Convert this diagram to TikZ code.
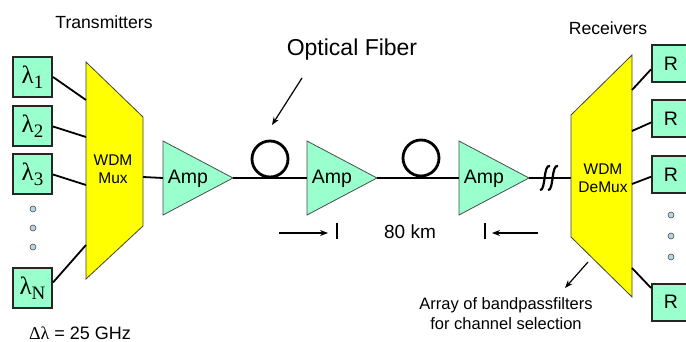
\documentclass[tikz,border=0pt]{standalone}
\usepackage{fontspec}
\setmainfont{Liberation Sans}
\newfontfamily\lamfont{Liberation Serif}
\usetikzlibrary{arrows.meta}

\definecolor{ampgreen}{HTML}{99FFCC}
\definecolor{muxyellow}{HTML}{FFFF00}
\definecolor{dotblue}{HTML}{B4D4E4}

\newcommand{\lam}[1]{{\lamfont\fontsize{25pt}{25pt}\selectfont λ\raisebox{-5pt}{\fontsize{19pt}{19pt}\selectfont #1}}}
% amplifier: name, left x
\newcommand{\ampl}[2]{%
  \coordinate (#1in) at (#2,178);
  \coordinate (#1out) at (#2+70,178);
  \draw[amptri] (#2,141) -- (#1out) -- (#2,215) -- cycle;
  \node[amptext] (#1) at (#2+25,179) {Amp};}

\tikzset{
  chbox/.style={draw=black!85,line width=2pt,fill=ampgreen,inner sep=0pt},
  txbox/.style={chbox,minimum width=39pt,minimum height=40pt},
  rxbox/.style={chbox,minimum width=38pt,minimum height=37pt,font=\fontsize{19.5pt}{19.5pt}\selectfont},
  amptri/.style={draw=black!70,line width=.8pt,fill=ampgreen},
  amptext/.style={font=\fontsize{19.5pt}{19.5pt}\selectfont},
  muxshape/.style={draw=black!75,line width=.8pt,fill=muxyellow},
  muxtext/.style={font=\fontsize{15.5pt}{17.5pt}\selectfont,align=center},
  link/.style={line width=1.8pt},
  fiber/.style={line width=2.8pt},
  lblarrow/.style={line width=1.2pt,-{Stealth[length=8pt,width=6pt]}},
  dimarrow/.style={line width=1.2pt,-{Stealth[length=8pt,width=6pt]}},
  dotmark/.style={draw=black!70,line width=.6pt,fill=dotblue},
}

\begin{document}
\begin{tikzpicture}[x=1pt,y=-1pt]
\useasboundingbox (0,0) rectangle (686,342);
\clip (0,0) rectangle (686,342);

% transmitters
\node[font=\fontsize{17.6pt}{17.6pt}\selectfont] (txlbl) at (104,22) {Transmitters};
\node[txbox] (t1) at (32.5,77) {\lam{1}};
\node[txbox] (t2) at (32.5,126.5) {\lam{2}};
\node[txbox] (t3) at (32.5,174.5) {\lam{3}};
\node[txbox] (tN) at (32.5,288) {\lam{N}};
\foreach \y in {209,228,247}
  \filldraw[dotmark] (33,\y) circle[radius=3pt];
\node[font=\fontsize{18pt}{18pt}\selectfont] (dlam) at (80,333) {{\lamfont Δλ} = 25 GHz};

% multiplexer
\coordinate (mx1) at (86,100);
\coordinate (mx2) at (86,137);
\coordinate (mx3) at (86,185);
\coordinate (mxN) at (86,245);
\coordinate (mxout) at (143,177);
\draw[muxshape] (86,62) -- (143,117) -- (143,226) -- (86,279) -- cycle;
\node[muxtext] (mux) at (113,169) {WDM\\Mux};
\draw[link] (t1.east) -- (mx1);
\draw[link] (t2.east) -- (mx2);
\draw[link] (t3.east) -- (mx3);
\draw[link] (tN.15) -- (mxN);

% amplifiers and fiber
\ampl{a1}{163}
\ampl{a2}{307}
\ampl{a3}{459}
\coordinate (loop1) at (270,159);
\coordinate (loop2) at (421,158);
\coordinate (dmxin) at (571,178);
\draw[link] (mxout) -- (a1in);
\draw[fiber] (a1out) -- (a2in);
\draw[fiber] (a2out) -- (a3in);
\draw[fiber] (a3out) -- (dmxin);
\draw[fiber] (loop1) circle[radius=18pt];
\draw[fiber] (loop2) circle[radius=18pt];
\foreach \x in {545,553}
  \draw[line width=2.2pt] (\x-5,190) .. controls (\x+1,191) and (\x-2,164) .. (\x+5,166);

\node[font=\fontsize{23pt}{23pt}\selectfont] (fiblbl) at (352,50) {Optical Fiber};
\coordinate (fibfrom) at (302,78);
\coordinate (fibto) at (272,125);
\draw[lblarrow] (fibfrom) -- (fibto);

% span length
\node[font=\fontsize{19pt}{19pt}\selectfont] (span) at (410,232) {80 km};
\coordinate (spanL) at (337,231);
\coordinate (spanR) at (485,231);
\coordinate (spanLa) at (279,233);
\coordinate (spanLb) at (328,233);
\coordinate (spanRa) at (538,233);
\coordinate (spanRb) at (492,233);
\draw[line width=1.2pt] (337,223) -- (337,239);
\draw[line width=1.2pt] (485,223) -- (485,239);
\draw[dimarrow] (spanLa) -- (spanLb);
\draw[dimarrow] (spanRa) -- (spanRb);

% demultiplexer
\draw[muxshape] (571,115) -- (632,55) -- (632,297) -- (571,237) -- cycle;
\node[muxtext] (dmx) at (603,178) {WDM\\DeMux};
\coordinate (dx1) at (632,90);
\coordinate (dx2) at (632,131);
\coordinate (dx3) at (632,184);
\coordinate (dxN) at (632,268);

% receivers
\node[font=\fontsize{17.6pt}{17.6pt}\selectfont] (rxlbl) at (608,28) {Receivers};
\node[rxbox] (r1) at (671,64) {R};
\node[rxbox] (r2) at (671,119) {R};
\node[rxbox] (r3) at (671,175) {R};
\node[rxbox] (rN) at (671,302) {R};
\foreach \y in {215,236,257}
  \filldraw[dotmark] (671,\y) circle[radius=3pt];
\draw[link] (dx1) -- (r1.195);
\draw[link] (dx2) -- (r2.190);
\draw[link] (dx3) -- (r3.185);
\draw[link] (dxN) -- (rN.145);

\node[font=\fontsize{16.5pt}{20pt}\selectfont,align=center] (bpf) at (506,314) {Array of bandpassfilters\\for channel selection};
\coordinate (bpffrom) at (588,262);
\coordinate (bpfto) at (565,288);
\draw[lblarrow] (bpffrom) -- (bpfto);
\end{tikzpicture}
\end{document}
